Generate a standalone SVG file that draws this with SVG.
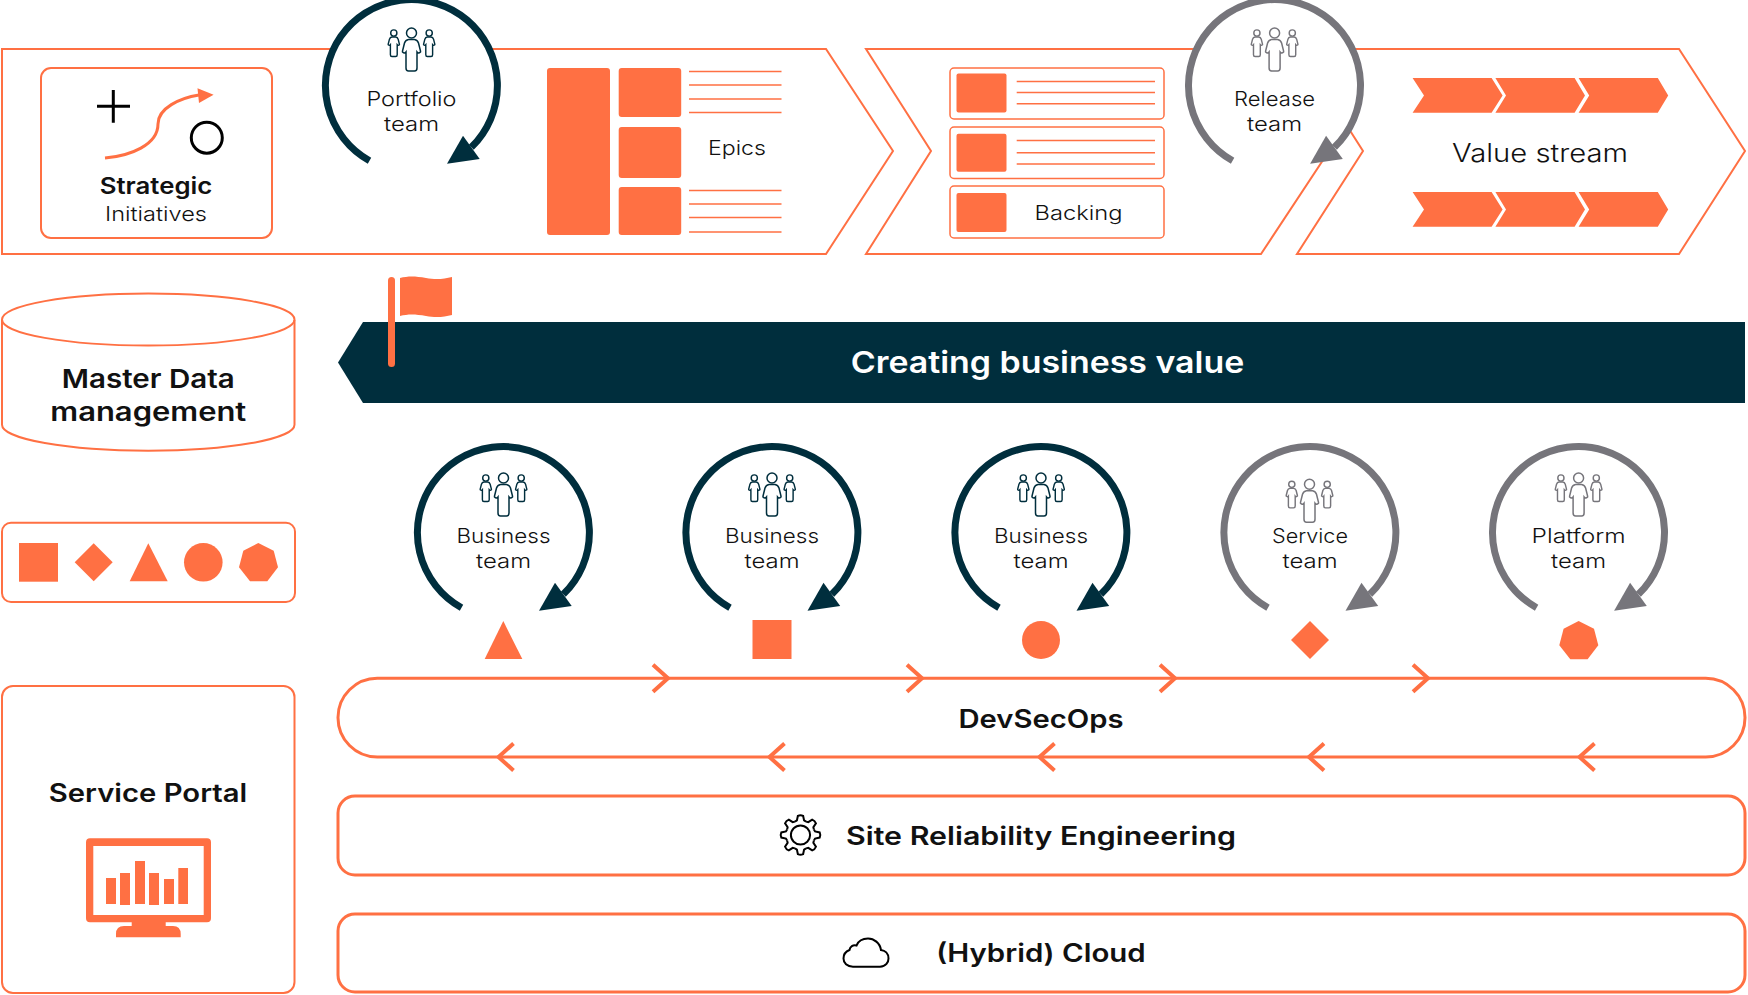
<svg xmlns="http://www.w3.org/2000/svg" width="1748" height="995" viewBox="0 0 1748 995">
<style>
text{font-family:"Inter","Liberation Sans",sans-serif;fill:#111;text-anchor:middle}
.r{font-size:20px;font-weight:300}
.b{font-weight:600}
.o{fill:none;stroke:#FF7043;stroke-width:2}
.o3{fill:none;stroke:#FF7043;stroke-width:3}
.f{fill:#FF7043}
.ln{stroke:#FF7043;stroke-width:1.5;fill:none}
.k{fill:none;stroke:#000}
.dark{color:#002E3D}
.gray{color:#76757B}
</style>
<defs>
<g id="person"><circle cx="0" cy="0" r="5"/><path d="M-3,6.5L3,6.5Q6,7 7,10L9,18V19Q7,21 5.5,19V35Q5.5,38 3,38H-3Q-5.5,38 -5.5,35V19Q-7,21 -9,19V18L-7,10Q-6,7 -3,6.5Z"/></g>
<g id="people" fill="none" stroke="currentColor" stroke-width="1.5"><use href="#person"/><use href="#person" transform="translate(-17.7,0) scale(.62)" stroke-width="2.3"/><use href="#person" transform="translate(17.7,0) scale(.62)" stroke-width="2.3"/></g>
<g id="loop"><circle r="86" fill="#fff"/><path d="M-42,75.7A86,86 0 1 1 59.8,62.3" fill="none" stroke="currentColor" stroke-width="7"/><path d="M51.5,50.7L68.2,74L35.5,78.7Z" fill="currentColor"/></g>
<path id="rchev" d="M-17,-13.500L-2,0L-17,13.500" fill="none" stroke="#FF7043" stroke-width="4"/>
<path id="lchev" d="M17,-13.500L2,0L17,13.500" fill="none" stroke="#FF7043" stroke-width="4"/>
<path id="gs" d="M-5.55,-13.4L-3.6,-14.6L-2.6,-19.2Q0,-20.4 2.6,-19.2L3.6,-14.6L5.55,-13.4" class="k" stroke-width="2"/>
<path id="vc1" d="M0,0H79L90,17.4L79,34.7H0L11.4,17.4Z"/>
<path id="vc2" d="M0,0H79.2L89.6,17.4L79.2,34.7H0L10.6,17.4Z"/>
</defs>

<g id="chevron-strategy"><path class="o" style="fill:#fff" d="M2,49H826L893,151L826,254H2Z"/></g>
<g id="chevron-backlog"><path class="o" style="fill:#fff" d="M866,49H1262L1329,151L1261,254H866L931,151Z"/></g>
<g id="chevron-value"><path class="o" style="fill:#fff" d="M1298,49H1679L1745,151L1679,254H1297L1363,151Z"/></g>

<g id="strategic-initiatives">
<rect class="o" x="41" y="68" width="231" height="170" rx="10"/>
<path class="k" stroke-width="3" d="M97,106.3H130M113.3,90V122.7"/>
<circle class="k" stroke-width="3" cx="206.8" cy="137.7" r="15.5"/>
<path class="o3" d="M105,158C130,156 158,145 158,124C158,108 180,98 199,95"/>
<path class="f" d="M197.5,88.3L213.6,94.7L199,103Z"/>
<text class="b" x="156" y="194" font-size="23" textLength="112.5" lengthAdjust="spacingAndGlyphs">Strategic</text>
<text class="r" x="156" y="221" textLength="102" lengthAdjust="spacingAndGlyphs">Initiatives</text>
</g>

<g id="epics">
<rect class="f" x="547" y="68" width="63" height="167" rx="3"/>
<rect class="f" x="618.7" y="68" width="62.5" height="49" rx="3"/>
<rect class="f" x="618.7" y="127" width="62.5" height="51" rx="3"/>
<rect class="f" x="618.7" y="187" width="62.5" height="48" rx="3"/>
<path class="ln" d="M689,71.5H781.500M689,85H781.500M689,99H781.500M689,112.600H781.500M689,190.600H781.500M689,204H781.500M689,217.500H781.500M689,232H781.500"/>
<text class="r" x="737" y="155" textLength="58" lengthAdjust="spacingAndGlyphs">Epics</text>
</g>

<g id="backlog">
<rect class="ln" x="950" y="68" width="214" height="51" rx="4"/>
<rect class="ln" x="950" y="127" width="214" height="51.500" rx="4"/>
<rect class="ln" x="950" y="186" width="214" height="52" rx="4"/>
<rect class="f" x="956.500" y="73.500" width="50" height="39" rx="2"/>
<rect class="f" x="956.500" y="133.800" width="50" height="38" rx="2"/>
<rect class="f" x="956.500" y="193" width="50" height="39" rx="2"/>
<path class="ln" d="M1016.700,81.400H1155M1016.700,92.500H1155M1016.700,103.700H1155M1016.700,140.500H1155M1016.700,152.700H1155M1016.700,164H1155"/>
<text class="r" x="1078.600" y="220" textLength="88" lengthAdjust="spacingAndGlyphs">Backing</text>
</g>

<g id="value-stream" class="f">
<use href="#vc1" x="1412.600" y="78"/><use href="#vc2" x="1495.400" y="78"/><use href="#vc2" x="1578.600" y="78"/>
<use href="#vc1" x="1412.600" y="192"/><use href="#vc2" x="1495.400" y="192"/><use href="#vc2" x="1578.600" y="192"/>
<text x="1540" y="162" font-size="25" font-weight="300" textLength="176" lengthAdjust="spacingAndGlyphs">Value stream</text>
</g>

<g id="portfolio-team" class="dark">
<use href="#loop" x="411.500" y="85"/><use href="#people" x="411.500" y="33"/>
<text class="r" x="411.500" y="105.600" textLength="90" lengthAdjust="spacingAndGlyphs">Portfolio</text>
<text class="r" x="411.500" y="130.600" textLength="55" lengthAdjust="spacingAndGlyphs">team</text>
</g>
<g id="release-team" class="gray">
<use href="#loop" x="1274.600" y="85"/><use href="#people" x="1274.600" y="33"/>
<text class="r" x="1274.600" y="105.600" textLength="81" lengthAdjust="spacingAndGlyphs">Release</text>
<text class="r" x="1274.600" y="130.600" textLength="55" lengthAdjust="spacingAndGlyphs">team</text>
</g>

<g id="master-data">
<path class="o" d="M2,320V424.700A146.250,26 0 0 0 294.500,424.700V320"/>
<ellipse class="o" cx="148.250" cy="319.500" rx="146.250" ry="26"/>
<text class="b" x="148.300" y="387.500" font-size="26" textLength="173" lengthAdjust="spacingAndGlyphs">Master Data</text>
<text class="b" x="148.300" y="421" font-size="26" textLength="196" lengthAdjust="spacingAndGlyphs">management</text>
</g>

<g id="business-value">
<path fill="#002E3D" d="M338,362.500L363,322H1745V403H363Z"/>
<text class="b" x="1047.500" y="373" font-size="30" style="fill:#fff" textLength="393.500" lengthAdjust="spacingAndGlyphs">Creating business value</text>
<rect class="f" x="388" y="277" width="7" height="90" rx="3.500"/>
<path class="f" d="M400,278C408,276 415,276 426,278C436,280 444,279 452,277V315C444,317 436,318 426,316C415,314 408,314 400,316Z"/>
</g>

<g id="shape-legend">
<rect class="o" x="2" y="522.700" width="293" height="79.300" rx="9"/>
<rect class="f" x="19" y="543" width="39" height="38.700"/>
<path class="f" d="M93.700,543.300L112.700,562.300L93.700,581.300L74.700,562.300Z"/>
<path class="f" d="M148.300,543.300L167.700,581.300H129.700Z"/>
<circle class="f" cx="203.300" cy="562.300" r="19.300"/>
<path class="f" d="M258.300,543L273.700,550.700L278,567.300L267.300,581.300H250L239,567.300L243.300,550.700Z"/>
</g>

<g id="business-team-1" class="dark">
<use href="#loop" x="503.500" y="532"/><use href="#people" x="503.500" y="478"/>
<text class="r" x="503.500" y="542.700" textLength="94" lengthAdjust="spacingAndGlyphs">Business</text>
<text class="r" x="503.500" y="568" textLength="55" lengthAdjust="spacingAndGlyphs">team</text>
<path class="f" d="M503.300,621L522.300,659H484.700Z"/>
</g>
<g id="business-team-2" class="dark">
<use href="#loop" x="772" y="532"/><use href="#people" x="772" y="478"/>
<text class="r" x="772" y="542.700" textLength="94" lengthAdjust="spacingAndGlyphs">Business</text>
<text class="r" x="772" y="568" textLength="55" lengthAdjust="spacingAndGlyphs">team</text>
<rect class="f" x="752.500" y="620" width="39" height="39"/>
</g>
<g id="business-team-3" class="dark">
<use href="#loop" x="1041" y="532"/><use href="#people" x="1041" y="478"/>
<text class="r" x="1041" y="542.700" textLength="94" lengthAdjust="spacingAndGlyphs">Business</text>
<text class="r" x="1041" y="568" textLength="55" lengthAdjust="spacingAndGlyphs">team</text>
<circle class="f" cx="1041" cy="640" r="19"/>
</g>
<g id="service-team" class="gray">
<use href="#loop" x="1310" y="532"/><use href="#people" x="1309.500" y="484.300"/>
<text class="r" x="1310" y="542.700" textLength="76" lengthAdjust="spacingAndGlyphs">Service</text>
<text class="r" x="1310" y="568" textLength="55" lengthAdjust="spacingAndGlyphs">team</text>
<path class="f" d="M1310,621L1329,640L1310,659L1291,640Z"/>
</g>
<g id="platform-team" class="gray">
<use href="#loop" x="1578.600" y="532"/><use href="#people" x="1578.600" y="478"/>
<text class="r" x="1578.600" y="542.700" textLength="94" lengthAdjust="spacingAndGlyphs">Platform</text>
<text class="r" x="1578.600" y="568" textLength="55" lengthAdjust="spacingAndGlyphs">team</text>
<path class="f" d="M1578.600,621L1594,628.700L1598.300,645.300L1587.600,659.300H1570.300L1559.300,645.300L1563.600,628.700Z"/>
</g>

<g id="service-portal">
<rect class="o" x="2" y="686" width="292.500" height="307" rx="11"/>
<text class="b" x="148" y="801.700" font-size="25" textLength="198.500" lengthAdjust="spacingAndGlyphs">Service Portal</text>
<path class="f" fill-rule="evenodd" d="M90,838.300H207Q211,838.300 211,842.300V918.300Q211,922.300 207,922.300H165.700V926H173Q180.700,926 180.700,934V937.300H116V934Q116,926 124,926H131.700V922.300H90Q86,922.300 86,918.300V842.300Q86,838.300 90,838.300ZM93.300,846V915H203.700V846Z"/>
<path class="f" d="M106,878H116V904H106ZM120,873H130V905H120ZM135,861H145V904H135ZM149,873H159V905H149ZM164,879H174V904H164ZM178.300,868H188V904H178.300Z"/>
</g>

<g id="devsecops">
<rect class="o3" x="338" y="678.300" width="1407" height="78.700" rx="39.300"/>
<text class="b" x="1041" y="728" font-size="25" textLength="165" lengthAdjust="spacingAndGlyphs">DevSecOps</text>
</g>
<g id="site-reliability">
<rect class="o3" x="338" y="796" width="1407" height="79" rx="17"/>
<g transform="translate(800.500,835)"><use href="#gs"/><use href="#gs" transform="rotate(45)"/><use href="#gs" transform="rotate(90)"/><use href="#gs" transform="rotate(135)"/><use href="#gs" transform="rotate(180)"/><use href="#gs" transform="rotate(225)"/><use href="#gs" transform="rotate(270)"/><use href="#gs" transform="rotate(315)"/><circle class="k" stroke-width="2" r="9.600"/></g>
<text class="b" x="1041" y="844.800" font-size="25" textLength="390" lengthAdjust="spacingAndGlyphs">Site Reliability Engineering</text>
</g>
<g id="hybrid-cloud">
<rect class="o3" x="338" y="914" width="1407" height="78" rx="17"/>
<path class="k" stroke-width="2" d="M853,966.700H880C886,966.700 888.500,962 888.500,958.500C888.500,953.500 885,950.500 881,950C880,943 874,938.500 868,938.500C862,938.500 858,942 856.500,945.500C853,944.500 850,946.500 849.500,950C845.500,951.500 843.500,955 843.500,958.500C843.500,963 847,966.700 853,966.700Z"/>
<text class="b" x="1041" y="962" font-size="25" textLength="209.500" lengthAdjust="spacingAndGlyphs">(Hybrid) Cloud</text>
</g>

<g id="connectors">
<use href="#rchev" x="670" y="678.300"/><use href="#rchev" x="924" y="678.300"/><use href="#rchev" x="1177" y="678.300"/><use href="#rchev" x="1430" y="678.300"/>
<use href="#lchev" x="496.500" y="757"/><use href="#lchev" x="767.500" y="757"/><use href="#lchev" x="1037.500" y="757"/><use href="#lchev" x="1307" y="757"/><use href="#lchev" x="1577.500" y="757"/>
</g>
</svg>
